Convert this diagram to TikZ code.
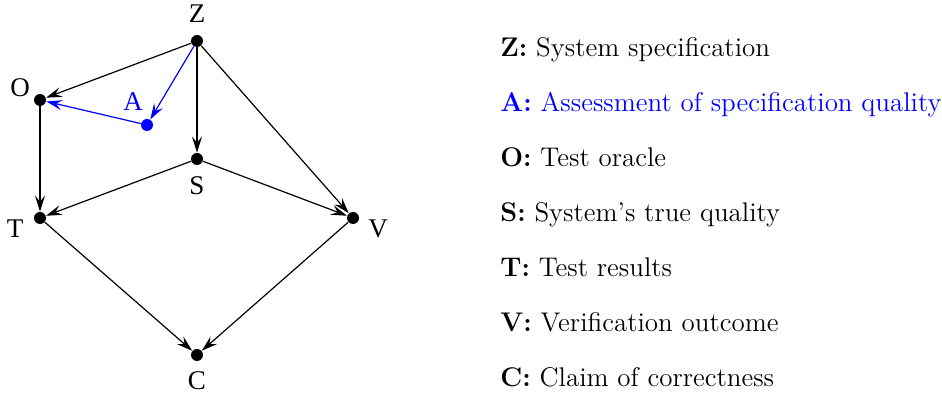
\documentclass[tikz,border=0pt]{standalone}
\usepackage{fontspec}
\newfontfamily\timesfont{Liberation Serif}
\usetikzlibrary{arrows.meta,positioning}
\tikzset{
      dot/.style = {circle, fill, inner sep=0pt, minimum size=6pt},   % <--- graph vertices
      arr/.style = {-{Stealth[length=8pt, width=5pt, inset=3pt]}, semithick},
   vlabel/.style = {font=\timesfont\fontsize{13.5}{15}\selectfont, inner sep=0pt},
   legend/.style = {anchor=base west, inner sep=0pt,
                    font=\fontsize{13.5}{16}\selectfont},
        }

\begin{document}
\begin{tikzpicture}[x=0.5pt,y=-0.5pt]
\useasboundingbox (0,0) rectangle (942,394);
% vertices
\node[dot] (Z) at (197,41)  {};
\node[dot] (O) at (40,100)  {};
\node[dot, blue] (A) at (147,125) {};
\node[dot] (S) at (197,159) {};
\node[dot] (T) at (40,218)  {};
\node[dot] (V) at (353,218) {};
\node[dot] (C) at (197,355) {};
% vertex names
\node[vlabel] (lZ) at (197,14)  {Z};
\node[vlabel] (lO) at (20,88)   {O};
\node[vlabel, blue] (lA) at (133,102) {A};
\node[vlabel] (lS) at (197,186) {S};
\node[vlabel] (lT) at (15,229)  {T};
\node[vlabel] (lV) at (378,229) {V};
\node[vlabel] (lC) at (197,381) {C};
% edges
\draw[arr] (Z) -- (O);
\draw[arr] (Z) -- (S);
\draw[arr] (Z) -- (V);
\draw[arr] (O) -- (T);
\draw[arr] (S) -- (T);
\draw[arr] (S) -- (V);
\draw[arr] (T) -- (C);
\draw[arr] (V) -- (C);
\draw[arr, blue] (Z) -- (A);
\draw[arr, blue] (A) -- (O);
% legend
\node[legend] (kZ) at (500,57)  {\textbf{Z:} System specification};
\node[legend, blue] (kA) at (500,112) {\textbf{A:} Assessment of specification quality};
\node[legend] (kO) at (500,167) {\textbf{O:} Test oracle};
\node[legend] (kS) at (500,222) {\textbf{S:} System's true quality};
\node[legend] (kT) at (500,277) {\textbf{T:} Test results};
\node[legend] (kV) at (500,332) {\textbf{V:} Verification outcome};
\node[legend] (kC) at (500,387) {\textbf{C:} Claim of correctness};
\end{tikzpicture}
\end{document}
